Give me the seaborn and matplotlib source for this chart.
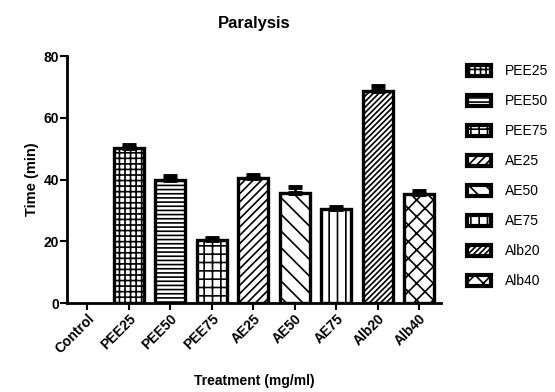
import matplotlib
matplotlib.use("Agg")
import matplotlib.pyplot as plt
import matplotlib.patches as mpatches
import numpy as np
import seaborn as sns

# Data
TREATMENTS = ["Control", "PEE25", "PEE50", "PEE75", "AE25", "AE50", "AE75", "Alb20", "Alb40"]
MEAN_TIME = [0.0, 50.2, 40.0, 20.3, 40.6, 35.8, 30.5, 68.8, 35.2]
SEM_TIME = [0.0, 1.0, 1.2, 0.8, 1.0, 1.8, 0.7, 1.4, 1.0]
HATCHES = ["", "+++", "----", "++", "////", "\\\\", "||", "//////", "xx"]

sns.set_theme(style="ticks")
plt.rcParams["font.family"] = ["Liberation Sans", "DejaVu Sans"]
plt.rcParams.update({
    "hatch.linewidth": 1.2,
    "text.color": "black",
    "axes.labelcolor": "black",
    "xtick.color": "black",
    "ytick.color": "black",
    "axes.edgecolor": "black",
})

fig = plt.figure(figsize=(5.55, 3.92), dpi=100)
ax = fig.add_axes([0.121, 0.227, 0.673, 0.630])

sns.barplot(x=TREATMENTS, y=MEAN_TIME, color="white", edgecolor="black",
            linewidth=2.4, width=0.72, ax=ax)

for bar, h, v in zip(ax.patches, HATCHES, MEAN_TIME):
    bar.set_hatch(h)
    bar.set_facecolor("white")
    if v == 0:
        bar.set_visible(False)

# upper error bars only
pos = np.arange(len(TREATMENTS))
mask = np.array(MEAN_TIME) > 0
ax.errorbar(pos[mask], np.array(MEAN_TIME)[mask],
            yerr=[np.zeros(mask.sum()), np.array(SEM_TIME)[mask]],
            fmt="none", ecolor="black", elinewidth=2, capsize=5, capthick=3.5)

ax.set_xlim(-0.48, 8.52)
ax.set_ylim(0, 80)
ax.set_yticks([0, 20, 40, 60, 80])
sns.despine(ax=ax)
for s in ["left", "bottom"]:
    ax.spines[s].set_linewidth(2)
ax.tick_params(axis="both", width=1.5, length=5, labelsize=10, pad=1)
ax.set_xticks(pos)
ax.set_xticklabels(TREATMENTS, rotation=45, ha="right", rotation_mode="anchor",
                   fontweight="bold")
for lbl in ax.get_yticklabels():
    lbl.set_fontweight("bold")

ax.set_xlabel("Treatment (mg/ml)", fontweight="bold", fontsize=10, labelpad=13)
ax.set_ylabel("Time (min)", fontweight="bold", fontsize=10.5, labelpad=3)
ax.set_title("Paralysis", fontweight="bold", fontsize=12, pad=20)

handles = [mpatches.Patch(facecolor="white", edgecolor="black", linewidth=3, hatch=h,
                          label=t) for t, h in zip(TREATMENTS[1:], HATCHES[1:])]
fig.legend(handles=handles, loc="upper left", bbox_to_anchor=(0.832, 0.85),
           frameon=False, fontsize=10, handlelength=1.7, handleheight=0.8,
           labelspacing=1.15, handletextpad=1.0, borderaxespad=0)

fig.savefig("out.png", dpi=100)
